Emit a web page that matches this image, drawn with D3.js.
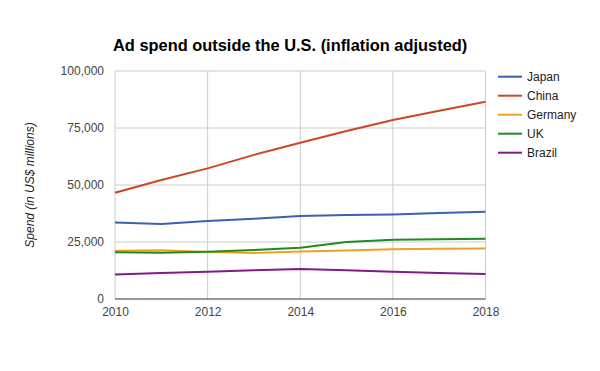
<!DOCTYPE html>
<html>
<head>
<meta charset="utf-8">
<script src="https://cdn.jsdelivr.net/npm/d3@7.9.0/dist/d3.min.js"></script>
<style>
  body { margin: 0; background: #fff; }
  text { font-family: Arial, "Liberation Sans", sans-serif; }
</style>
</head>
<body>
<div class="container"></div>
<script>
const years = [2010, 2011, 2012, 2013, 2014, 2015, 2016, 2017, 2018];
const japan = [33500, 32900, 34200, 35200, 36400, 36800, 37100, 37700, 38300];
const china = [46600, 52200, 57300, 63200, 68500, 73700, 78500, 82600, 86500];
const germany = [21200, 21400, 20600, 20200, 20800, 21300, 21800, 22000, 22200];
const uk = [20500, 20300, 20700, 21500, 22500, 25000, 26000, 26200, 26400];
const brazil = [10700, 11400, 12000, 12600, 13200, 12600, 12000, 11400, 11000];
const xTicks = [2010, 2012, 2014, 2016, 2018];
const yTicks = [0, 25000, 50000, 75000, 100000];

const series = [
    {name: "Japan", values: japan, color: "#3b62b0"},
    {name: "China", values: china, color: "#cc4722"},
    {name: "Germany", values: germany, color: "#f2a024"},
    {name: "UK", values: uk, color: "#218a21"},
    {name: "Brazil", values: brazil, color: "#84198c"}
];

const width = 600, height = 371;
const plot = {left: 115, right: 485.5, top: 71, bottom: 299};

const svg = d3.select(".container")
    .append("svg")
    .attr("width", width)
    .attr("height", height);

const x = d3.scaleLinear().domain([2010, 2018]).range([plot.left, plot.right]);
const y = d3.scaleLinear().domain([0, 100000]).range([plot.bottom, plot.top]);

// gridlines
svg.append("g")
    .selectAll("line.h")
    .data(yTicks.filter(d => d > 0))
    .enter().append("line")
    .attr("x1", plot.left).attr("x2", plot.right)
    .attr("y1", d => y(d)).attr("y2", d => y(d))
    .attr("stroke", "#cccccc");

svg.append("g")
    .selectAll("line.v")
    .data(xTicks)
    .enter().append("line")
    .attr("x1", d => x(d)).attr("x2", d => x(d))
    .attr("y1", plot.top).attr("y2", plot.bottom)
    .attr("stroke", "#cccccc");

// baseline
svg.append("line")
    .attr("x1", plot.left).attr("x2", plot.right)
    .attr("y1", y(0)).attr("y2", y(0))
    .attr("stroke", "#333");

// y axis labels
const yAxis = d3.axisLeft(y).tickValues(yTicks).tickSize(0).tickPadding(11)
    .tickFormat(d3.format(","));
svg.append("g")
    .attr("transform", `translate(${plot.left},0)`)
    .call(yAxis)
    .call(g => g.select(".domain").remove())
    .selectAll("text")
    .attr("fill", "#444")
    .style("font-size", "12px");

// x axis labels
const xAxis = d3.axisBottom(x).tickValues(xTicks).tickSize(0).tickPadding(8)
    .tickFormat(d3.format("d"));
svg.append("g")
    .attr("transform", `translate(0,${plot.bottom})`)
    .call(xAxis)
    .call(g => g.select(".domain").remove())
    .selectAll("text")
    .attr("fill", "#444")
    .style("font-size", "12px");

// lines
const line = d3.line()
    .x((d, i) => x(years[i]))
    .y(d => y(d));

svg.append("g")
    .selectAll("path")
    .data(series)
    .enter().append("path")
    .attr("d", d => line(d.values))
    .attr("fill", "none")
    .attr("stroke", d => d.color)
    .attr("stroke-width", 2)
    .attr("stroke-linejoin", "round");

// title
svg.append("text")
    .attr("x", 113)
    .attr("y", 51)
    .style("font-size", "16.4px")
    .style("font-weight", "bold")
    .attr("fill", "#000")
    .text("Ad spend outside the U.S. (inflation adjusted)");

// y axis title
svg.append("text")
    .attr("transform", `translate(34,${(plot.top + plot.bottom) / 2}) rotate(-90)`)
    .attr("text-anchor", "middle")
    .style("font-size", "12px")
    .style("font-style", "italic")
    .attr("fill", "#222")
    .text("Spend (in US$ millions)");

// legend
const legend = svg.append("g")
    .selectAll("g")
    .data(series)
    .enter().append("g")
    .attr("transform", (d, i) => `translate(498,${76.7 + i * 19})`);

legend.append("line")
    .attr("x1", 0).attr("x2", 24)
    .attr("stroke", d => d.color)
    .attr("stroke-width", 2);

legend.append("text")
    .attr("x", 29)
    .attr("dy", "0.35em")
    .style("font-size", "12px")
    .attr("fill", "#222")
    .text(d => d.name);
</script>
</body>
</html>
